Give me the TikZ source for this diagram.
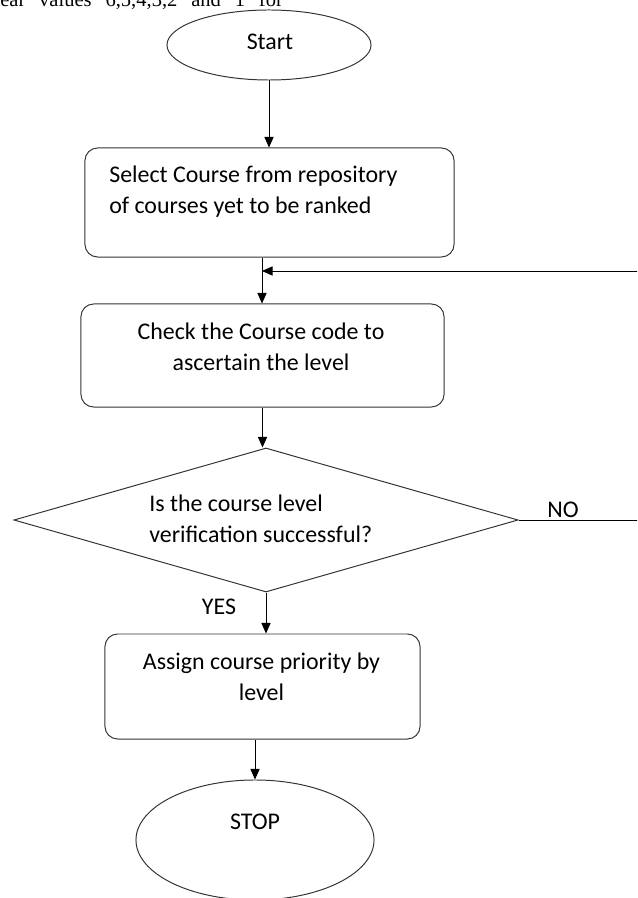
\documentclass[tikz,border=0pt]{standalone}
\usepackage{fontspec}
\setmainfont{Carlito}
\newfontfamily\pagefont{Liberation Serif}
\usetikzlibrary{shapes.geometric,arrows.meta}
\tikzset{
  flow/.style={draw=black!80,line width=0.7pt},
  termnode/.style={flow,ellipse,inner sep=0pt},
  procbox/.style={flow,rectangle,rounded corners=9pt,inner sep=0pt},
  decnode/.style={flow,diamond,inner sep=0pt},
  txt/.style={font=\fontsize{17}{22}\selectfont,inner sep=0pt},
  arr/.style={line width=0.7pt,-{Triangle[length=7.5pt,width=6.5pt]}}
}
\begin{document}
\begin{tikzpicture}[x=0.025cm,y=-0.025cm]
\useasboundingbox (0,0) rectangle (637,898);
\clip (0,0) rectangle (637,898);
%page text above the chart
\node[anchor=base west,inner sep=0pt,font=\pagefont\fontsize{14.6}{16}\selectfont] (pagetxt) at (0,7) {\makebox[201pt][s]{ear values 6,5,4,3,2 and 1 for}};
%shapes
\node[termnode,minimum width=5.1cm,minimum height=1.75cm] (start) at (269,45) {};
\node[procbox,minimum width=9.225cm,minimum height=2.725cm] (sel) at (269.5,202.5) {};
\node[procbox,minimum width=9.075cm,minimum height=2.575cm] (chk) at (262.5,355.5) {};
\node[decnode,minimum width=12.6cm,minimum height=3.6cm] (dec) at (266,520) {};
\node[procbox,minimum width=7.875cm,minimum height=2.625cm] (asg) at (262.5,686.5) {};
\node[termnode,minimum width=5.95cm,minimum height=3cm] (stop) at (255,840) {};
%texts
\node[txt] (start-t) at (270,42) {Start};
\node[txt,align=left,anchor=west] (sel-t) at (109,192) {Select Course from repository\\of courses yet to be ranked};
\node[txt,align=center] (chk-t) at (261,346.5) {Check the Course code to\\ascertain the level};
\node[txt,align=left,anchor=west] (dec-t) at (149,518.5) {Is the course level\\verification successful?};
\node[txt,align=center] (asg-t) at (261.5,676.5) {Assign course priority by\\level};
\node[txt] (stop-t) at (255,822) {STOP};
\node[txt] (yes) at (219,607) {YES};
\node[txt] (no) at (563,510) {NO};
%arrows
\coordinate (fbin) at (262,271);
\draw[arr] (start.south) -- (start.south |- sel.north);
\draw[arr] (sel.south -| fbin) -- (fbin |- chk.north);
\draw[arr] (chk.south) -- (chk.south |- dec.north);
\draw[arr] (dec.south) -- (dec.south |- asg.north);
\draw[arr] (stop.north |- asg.south) -- (stop.north);
%no loop
\coordinate (nodn) at (642,520);
\coordinate (noup) at (642,271);
\draw[arr] (dec.east) -- (nodn) -- (noup) -- (fbin);
\end{tikzpicture}
\end{document}
